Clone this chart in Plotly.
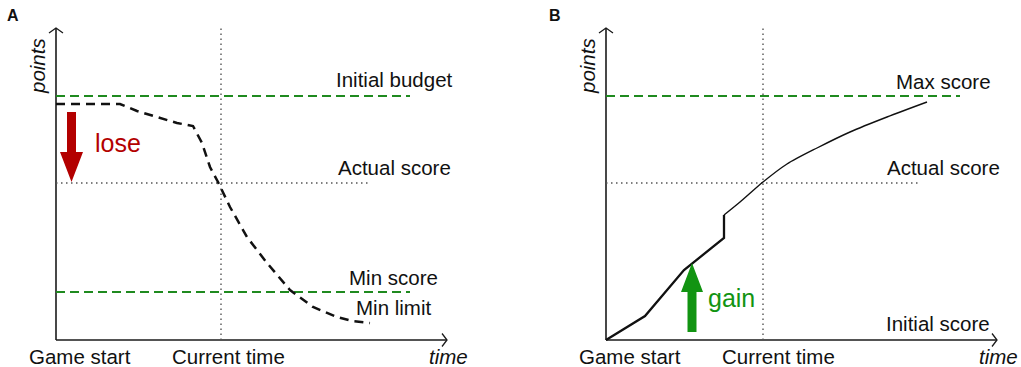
import plotly.graph_objects as go

# ---------------- data (time units, points units) ----------------
# Panel A
A_BUDGET = 24.4
A_ACTUAL = 15.7
A_MIN_SCORE = 4.8
A_CURRENT_T = 16.5
A_REF_END = 35.4          # end of the green dashed reference lines
A_ACTUAL_END = 31.4       # end of dotted "actual score" line
A_curve_t = [0, 6.4, 8.1, 10.1, 12.1, 13.7, 14.6, 15.4, 16.2, 17.4, 19.1, 21.1, 23.4, 25.7, 28.1, 29.6, 31.4]
A_curve_p = [23.6, 23.6, 22.9, 22.3, 21.7, 21.4, 19.7, 17.3, 15.8, 13.3, 10.3, 7.7, 5.0, 3.3, 2.3, 1.9, 1.7]
A_lose_arrow = dict(t=1.55, start=22.8, head=18.8, tip=15.8)

# Panel B
B_MAX = 24.4
B_ACTUAL = 15.7
B_CURRENT_T = 15.7
B_REF_END = 35.4
B_ACTUAL_END = 31.4
B_early_t = [0, 3.9, 7.8, 11.8, 11.8]
B_early_p = [0, 2.4, 7.0, 10.2, 12.5]
B_late_t = [11.8, 13.4, 15.7, 18.1, 21.1, 24.4, 28.1, 32.1]
B_late_p = [12.5, 13.8, 15.8, 17.6, 19.2, 20.8, 22.3, 23.8]
B_gain_arrow = dict(t=8.6, start=0.8, head=4.8, tip=7.7)

AXIS_T_END = 39.1
AXIS_P_END = 31.2

FONT = "Liberation Sans, Arial, sans-serif"
GREEN_LINE = "#1f8a1f"
RED = "#b30000"
GREEN = "#129412"
DOT_GRAY = "#555555"

fig = go.Figure()

fig.update_layout(
    width=1021, height=367,
    margin=dict(l=0, r=0, t=0, b=0),
    paper_bgcolor="white", plot_bgcolor="white",
    showlegend=False,
    xaxis=dict(domain=[0, 0.5], range=[-5.6, 45.45], visible=False, fixedrange=True),
    yaxis=dict(domain=[0, 1], range=[-2.7, 34.0], visible=False, fixedrange=True),
    xaxis2=dict(domain=[0.5, 1], range=[-9.55, 41.5], visible=False, fixedrange=True),
    yaxis2=dict(domain=[0, 1], range=[-2.7, 34.0], visible=False, fixedrange=True, anchor="x2"),
)


def line(xs, ys, ax, color, width, dash="solid", shape="linear", smoothing=1.0):
    xr, yr = ("x", "y") if ax == 1 else ("x2", "y2")
    ld = dict(color=color, width=width, dash=dash, shape=shape)
    if shape == "spline":
        ld["smoothing"] = smoothing
    fig.add_trace(go.Scatter(x=xs, y=ys, mode="lines", xaxis=xr, yaxis=yr,
                             line=ld, hoverinfo="skip"))


def arrow_poly(a, ax, color, shaft_hw=0.45, head_hw=1.15):
    t = a["t"]
    xs = [t - shaft_hw, t - shaft_hw, t - head_hw, t, t + head_hw, t + shaft_hw, t + shaft_hw, t - shaft_hw]
    ys = [a["start"], a["head"], a["head"], a["tip"], a["head"], a["head"], a["start"], a["start"]]
    xr, yr = ("x", "y") if ax == 1 else ("x2", "y2")
    fig.add_trace(go.Scatter(x=xs, y=ys, mode="lines", fill="toself", fillcolor=color,
                             line=dict(color=color, width=0), xaxis=xr, yaxis=yr, hoverinfo="skip"))


def axes(ax):
    AX = "#1a1a1a"
    line([0, 0], [0, AXIS_P_END], ax, AX, 1.6)
    line([0, AXIS_T_END], [0, 0], ax, AX, 1.6)
    line([-0.7, 0, 0.7], [AXIS_P_END - 0.5, AXIS_P_END, AXIS_P_END - 0.5], ax, AX, 1.3)
    line([AXIS_T_END - 0.5, AXIS_T_END, AXIS_T_END - 0.5], [0.65, 0, -0.65], ax, AX, 1.3)


def ann(ax, t, p, text, size=20.5, color="#111111", italic=False, angle=0, xanchor="center"):
    xr, yr = ("x", "y") if ax == 1 else ("x2", "y2")
    fig.add_annotation(x=t, y=p, xref=xr, yref=yr, text=(f"<i>{text}</i>" if italic else text),
                       showarrow=False, textangle=angle, xanchor=xanchor, yanchor="middle",
                       font=dict(family=FONT, size=size, color=color))


DOTS = "1.5px,3.5px"
GDASH = "9px,5px"

# ---------------- Panel A ----------------
axes(1)
line([A_CURRENT_T, A_CURRENT_T], [0, AXIS_P_END], 1, DOT_GRAY, 1.4, dash=DOTS)
line([0, A_ACTUAL_END], [A_ACTUAL, A_ACTUAL], 1, DOT_GRAY, 1.4, dash=DOTS)
line([0, A_REF_END], [A_BUDGET, A_BUDGET], 1, GREEN_LINE, 2.2, dash=GDASH)
line([0, A_REF_END], [A_MIN_SCORE, A_MIN_SCORE], 1, GREEN_LINE, 2.2, dash=GDASH)
line(A_curve_t, A_curve_p, 1, "#111111", 2.5, dash="9px,6px")
arrow_poly(A_lose_arrow, 1, RED)

ann(1, 33.8, 26.1, "Initial budget")
ann(1, 33.8, 17.3, "Actual score")
ann(1, 33.7, 6.3, "Min score")
ann(1, 33.7, 3.3, "Min limit")
ann(1, 6.2, 19.7, "lose", size=25, color=RED)
ann(1, 2.4, -1.6, "Game start")
ann(1, 17.2, -1.6, "Current time")
ann(1, 39.2, -1.6, "time", italic=True)
ann(1, -1.9, 27.4, "points", italic=True, angle=-90)

# ---------------- Panel B ----------------
axes(2)
line([B_CURRENT_T, B_CURRENT_T], [0, AXIS_P_END], 2, DOT_GRAY, 1.4, dash=DOTS)
line([0, B_ACTUAL_END], [B_ACTUAL, B_ACTUAL], 2, DOT_GRAY, 1.4, dash=DOTS)
line([0, B_REF_END], [B_MAX, B_MAX], 2, GREEN_LINE, 2.2, dash=GDASH)
line(B_early_t, B_early_p, 2, "#111111", 2.3)
line(B_late_t, B_late_p, 2, "#111111", 1.4, shape="spline", smoothing=0.8)
arrow_poly(B_gain_arrow, 2, GREEN, shaft_hw=0.45, head_hw=1.1)

ann(2, 33.7, 25.9, "Max score")
ann(2, 33.7, 17.3, "Actual score")
ann(2, 33.2, 1.7, "Initial score")
ann(2, 12.5, 4.2, "gain", size=25, color=GREEN)
ann(2, 2.4, -1.6, "Game start")
ann(2, 17.2, -1.6, "Current time")
ann(2, 39.2, -1.6, "time", italic=True)
ann(2, -1.9, 27.4, "points", italic=True, angle=-90)

# panel letters
fig.add_annotation(x=13 / 1021, y=1 - 15 / 367, xref="paper", yref="paper", text="<b>A</b>",
                   showarrow=False, xanchor="center", yanchor="middle",
                   font=dict(family=FONT, size=16, color="#111111"))
fig.add_annotation(x=555 / 1021, y=1 - 15 / 367, xref="paper", yref="paper", text="<b>B</b>",
                   showarrow=False, xanchor="center", yanchor="middle",
                   font=dict(family=FONT, size=16, color="#111111"))

fig.write_html("out.html", config={"displayModeBar": False},
               post_script="document.body.style.margin='0';document.body.style.overflow='hidden';")
